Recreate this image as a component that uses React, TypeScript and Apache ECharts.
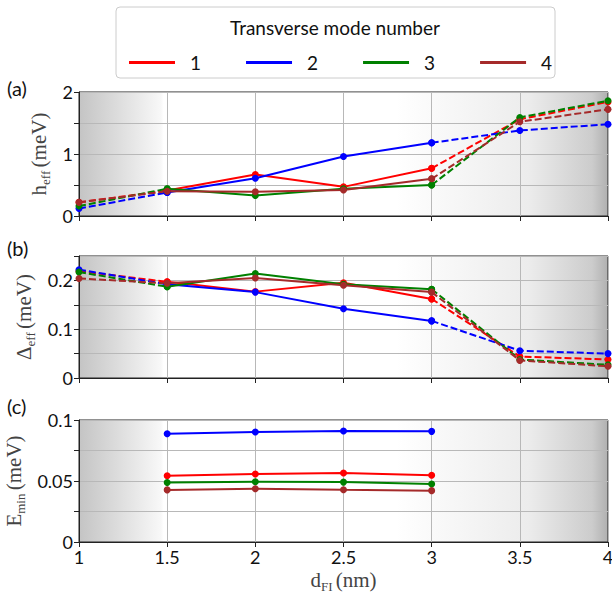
import React, { useEffect, useRef } from "react";
import * as echarts from "echarts";

const xs = [1, 1.5, 2, 2.5, 3, 3.5, 4];
const xsEmin = [1.5, 2, 2.5, 3];
const modes = ["1", "2", "3", "4"];
const colors = ["#ff0000", "#0000ff", "#008000", "#a52a2a"];

const hEff1 = [0.22, 0.41, 0.67, 0.47, 0.77, 1.56, 1.84];
const hEff2 = [0.12, 0.38, 0.61, 0.96, 1.18, 1.38, 1.48];
const hEff3 = [0.16, 0.44, 0.33, 0.44, 0.5, 1.59, 1.86];
const hEff4 = [0.22, 0.4, 0.39, 0.42, 0.6, 1.52, 1.72];

const delta1 = [0.219, 0.197, 0.177, 0.195, 0.162, 0.044, 0.038];
const delta2 = [0.222, 0.192, 0.176, 0.142, 0.117, 0.056, 0.05];
const delta3 = [0.217, 0.187, 0.214, 0.192, 0.182, 0.038, 0.027];
const delta4 = [0.204, 0.194, 0.205, 0.19, 0.176, 0.036, 0.024];

const emin1 = [0.0543, 0.0557, 0.0565, 0.0547];
const emin2 = [0.0888, 0.0902, 0.091, 0.0907];
const emin3 = [0.0488, 0.0494, 0.0491, 0.0476];
const emin4 = [0.0427, 0.0437, 0.0428, 0.0421];

const hEff = [hEff1, hEff2, hEff3, hEff4];
const delta = [delta1, delta2, delta3, delta4];
const emin = [emin1, emin2, emin3, emin4];

const SANS = "Lato";
const SERIF = "Liberation Serif";

const bg = {
  type: "linear",
  x: 0,
  y: 0,
  x2: 1,
  y2: 0,
  colorStops: [
    { offset: 0, color: "#c4c4c4" },
    { offset: 0.155, color: "#f8f8f8" },
    { offset: 0.16, color: "#ffffff" },
    { offset: 0.6, color: "#ffffff" },
    { offset: 0.85, color: "#ececec" },
    { offset: 0.97, color: "#cccccc" },
    { offset: 1, color: "#b0b0b0" },
  ],
};

const nameRich = {
  m: { fontFamily: SERIF, fontSize: 21, color: "#444", lineHeight: 26 },
  s: { fontFamily: SERIF, fontSize: 13, color: "#444", verticalAlign: "bottom", lineHeight: 18 },
};

function grid(top: number, height: number) {
  return {
    left: 79,
    right: 4,
    top,
    height,
    show: true,
    backgroundColor: bg,
    borderColor: "#222",
    borderWidth: 1,
    containLabel: false,
    outerBoundsMode: "none",
  };
}

function xAxis(gridIndex: number, labels: boolean) {
  return {
    type: "value",
    gridIndex,
    min: 1,
    max: 4,
    interval: 0.5,
    axisLine: { show: true, onZero: false, lineStyle: { color: "#222" } },
    axisTick: { show: true, length: 5, lineStyle: { color: "#222" } },
    axisLabel: {
      show: labels,
      fontFamily: SANS,
      fontSize: 18,
      color: "#111",
      margin: 6,
      formatter: (v: number) => String(v),
    },
    splitLine: { show: true, lineStyle: { color: "#b8b8b8", width: 1 } },
    name: labels ? "{m|d}{s|FI} {m|(nm)}" : "",
    nameLocation: "middle",
    nameGap: 25,
    nameTextStyle: { rich: nameRich },
  };
}

function yAxis(gridIndex: number, max: number, interval: number, shown: number[], sym: string, sub: string, gap: number) {
  return {
    type: "value",
    gridIndex,
    min: 0,
    max,
    interval,
    axisLine: { show: true, lineStyle: { color: "#222" } },
    axisTick: { show: true, length: 5, lineStyle: { color: "#222" } },
    axisLabel: {
      fontFamily: SANS,
      fontSize: 18,
      color: "#111",
      margin: 6,
      formatter: (v: number) => (shown.some((s) => Math.abs(s - v) < 1e-9) ? String(v) : ""),
    },
    splitLine: { show: true, lineStyle: { color: "#b8b8b8", width: 1 } },
    name: "{m|" + sym + "}{s|" + sub + "} {m|(meV)}",
    nameLocation: "middle",
    nameRotate: 90,
    nameGap: gap,
    nameTextStyle: { rich: nameRich },
  };
}

function panelSeries(idx: number, xv: number[], data: number[][], withDashed: boolean) {
  const out: any[] = [];
  data.forEach((vals, m) => {
    const solid: any[] = [];
    xv.forEach((x, i) => {
      if (!withDashed || (x >= 1.5 && x <= 3)) solid.push([x, vals[i]]);
    });
    out.push({
      name: modes[m],
      type: "line",
      xAxisIndex: idx,
      yAxisIndex: idx,
      data: solid,
      symbol: "circle",
      symbolSize: 7,
      lineStyle: { color: colors[m], width: 2 },
      itemStyle: { color: colors[m] },
      z: 3,
    });
    if (withDashed) {
      const dashed: any[] = [];
      xv.forEach((x, i) => {
        if (x <= 1.5 || x >= 3) dashed.push([x, vals[i]]);
        if (x === 2) dashed.push([x, "-"]);
      });
      out.push({
        name: modes[m] + " extrapolated",
        type: "line",
        xAxisIndex: idx,
        yAxisIndex: idx,
        data: dashed,
        connectNulls: false,
        symbol: "circle",
        symbolSize: 7,
        lineStyle: { color: colors[m], width: 2, type: [7, 3] },
        itemStyle: { color: colors[m] },
        z: 2,
      });
    }
  });
  return out;
}

export default function App() {
  const ref = useRef<HTMLDivElement>(null);
  useEffect(() => {
    if (!ref.current) return;
    const chart = echarts.init(ref.current, undefined, { renderer: "svg" });
    const option: any = {
      animation: false,
      backgroundColor: "#ffffff",
      grid: [grid(92, 124), grid(256, 122), grid(420, 122)],
      xAxis: [xAxis(0, false), xAxis(1, false), xAxis(2, true)],
      yAxis: [
        yAxis(0, 2, 0.5, [0, 1, 2], "h", "eff", 20),
        yAxis(1, 0.25, 0.05, [0, 0.1, 0.2], "Δ", "eff", 35),
        yAxis(2, 0.1, 0.025, [0, 0.05, 0.1], "E", "min", 45),
      ],
      legend: {
        data: modes,
        left: 124,
        top: 48,
        icon: "rect",
        itemWidth: 46,
        itemHeight: 3,
        itemGap: 45,
        textStyle: { fontFamily: SANS, fontSize: 19, color: "#111", padding: [0, 0, 0, 10] },
        selectedMode: false,
      },
      graphic: [
        {
          type: "rect",
          shape: { x: 116, y: 7, width: 439, height: 71, r: 4 },
          style: { fill: "#ffffff", stroke: "#cccccc", lineWidth: 1 },
          z: -1,
          silent: true,
        },
        {
          type: "text",
          x: 335,
          y: 27,
          style: {
            text: "Transverse mode number",
            fontFamily: SANS,
            fontSize: 19,
            fill: "#111",
            textAlign: "center",
            textVerticalAlign: "middle",
          },
        },
        { type: "text", x: 7, y: 88, style: { text: "(a)", fontFamily: SANS, fontSize: 20, fill: "#111", textVerticalAlign: "middle" } },
        { type: "text", x: 7, y: 248, style: { text: "(b)", fontFamily: SANS, fontSize: 20, fill: "#111", textVerticalAlign: "middle" } },
        { type: "text", x: 7, y: 406, style: { text: "(c)", fontFamily: SANS, fontSize: 20, fill: "#111", textVerticalAlign: "middle" } },
      ],
      series: [
        ...panelSeries(0, xs, hEff, true),
        ...panelSeries(1, xs, delta, true),
        ...panelSeries(2, xsEmin, emin, false),
      ],
    };
    chart.setOption(option);
    return () => chart.dispose();
  }, []);
  return <div ref={ref} style={{ position: "fixed", left: 0, top: 0, width: 612, height: 598 }} />;
}
